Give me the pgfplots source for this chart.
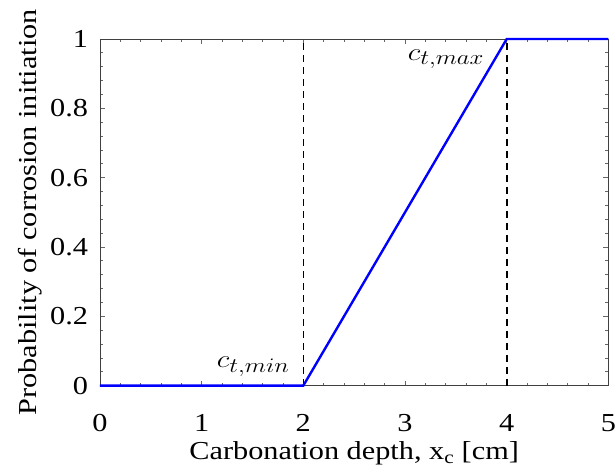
\documentclass[border=0pt]{standalone}
\usepackage{pgfplots}
\pgfplotsset{compat=1.18}
\usepackage{fontspec}
\setmainfont{Liberation Serif}[FakeStretch=1.17]
\begin{document}
\fontsize{26}{30}\selectfont
\begin{tikzpicture}[x=1bp,y=1bp]
\begin{axis}[
  at={(0,0)}, anchor=south west,
  scale only axis,
  width=509bp, height=347bp,
  xmin=0, xmax=5, ymin=0, ymax=1,
  xtick={0,1,2,3,4,5},
  ytick={0,0.2,0.4,0.6,0.8,1},
  yticklabels={0,0.2,0.4,0.6,0.8,1},
  minor x tick num=4,
  minor y tick num=4,
  tick align=inside,
  major tick length=5bp,
  minor tick length=3bp,
  tick style={black!60, line width=0.8bp},
  axis line style={black!75, line width=0.8bp},
  /pgf/number format/assume math mode=true,
  ticklabel style={font=\fontsize{26}{30}\selectfont},
  xticklabel style={yshift=-20bp, inner xsep=0pt},
  yticklabel style={xshift=-3bp, inner ysep=0pt},
  label style={font=\fontsize{26}{30}\selectfont, inner sep=0pt},
  xlabel={Carbonation depth, x\textsubscript{c} [cm]},
  ylabel={Probability of corrosion initiation},
  xlabel style={at={(axis description cs:0.5,-0.213)}, anchor=base},
  ylabel style={at={(axis description cs:-0.1238,0.5)}, anchor=base, rotate=0},
  clip=false,
]
\addplot[black, line width=1.6bp, dash pattern=on 7bp off 5bp] coordinates {(2,0) (2,1)};
\addplot[black, line width=1.6bp, dash pattern=on 7bp off 5bp] coordinates {(4,0) (4,1)};
\addplot[blue, line width=2.4bp] coordinates {(0,0) (2,0) (4,1) (5,1)};
\node[anchor=base east, inner sep=0pt, font=\fontsize{29}{30}\selectfont] at (axis cs:1.866,0.052) {\scalebox{1.2}[1]{$c_{t,min}$}};
\node[anchor=base east, inner sep=0pt, font=\fontsize{29}{30}\selectfont] at (axis cs:3.78,0.937) {\scalebox{1.2}[1]{$c_{t,max}$}};
\end{axis}
\path[use as bounding box] (-100bp,-82bp) rectangle (516bp,386bp);
\end{tikzpicture}
\end{document}
